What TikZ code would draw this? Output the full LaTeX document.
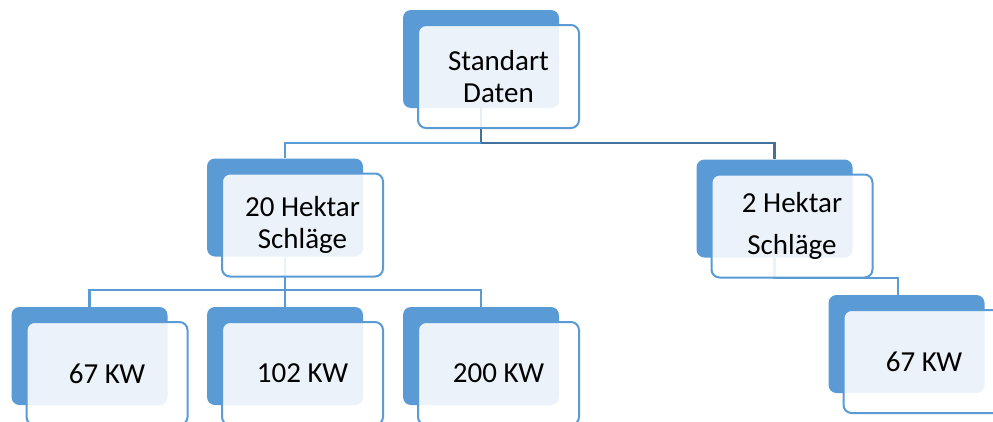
\documentclass[tikz,border=0pt]{standalone}
\usepackage{fontspec}
\setmainfont{Carlito}
\usetikzlibrary{backgrounds}
\definecolor{boxblue}{HTML}{5B9BD5}
\definecolor{linedark}{HTML}{41719C}
\begin{document}
\begin{tikzpicture}[x=1pt,y=-1pt,
  backbox/.style={fill=boxblue, rounded corners=8pt, minimum width=156pt, minimum height=98pt, inner sep=0pt},
  frontbox/.style={draw=boxblue, line width=2pt, fill=white, fill opacity=0.88, text opacity=1, rounded corners=8pt, minimum width=161pt, minimum height=103pt, inner sep=0pt, align=center, font=\fontsize{29}{32}\selectfont},
  conn/.style={draw=boxblue, line width=2.2pt},
  conndark/.style={draw=linedark, line width=2.2pt}]
\useasboundingbox (0,0) rectangle (993,421);
% back boxes
\node[backbox] (t)  at (481,59) {};
\node[backbox] (l)  at (285,207.5) {};
\node[backbox] (r)  at (774.5,208.5) {};
\node[backbox] (b1) at (89.5,356) {};
\node[backbox] (b2) at (285,356) {};
\node[backbox] (b3) at (481,356) {};
\node[backbox] (br) at (906.5,344) {};
% front boxes
\node[frontbox] (tf)  at (498.5,76.5) {Standart\\Daten};
\node[frontbox] (lf)  at (302.5,225) {20 Hektar\\Schläge};
\node[frontbox] (rf)  at (792,226) {2 Hektar\\[10pt]Schläge};
\node[frontbox] (b1f) at (107,373.5) {67 KW};
\node[frontbox] (b2f) at (302.5,373.5) {102 KW};
\node[frontbox] (b3f) at (498.5,373.5) {200 KW};
\node[frontbox] (brf) at (924,361.5) {67 KW};
\coordinate (rdrop) at (898,295);
% connectors
\begin{scope}[on background layer]
\fill[white] (0,0) rectangle (993,421);
\draw[conndark] (t.south) -- ++(0,35) -| (r.north);
\draw[conn] (t.south) ++(0,35) -| (l.north);
\draw[conn] (l.south) -- ++(0,33) -| (b1.north);
\draw[conn] (l.south) ++(0,33) -| (b3.north);
\draw[conn] (l.south) -- (b2.north);
\draw[conn] (r.south) -- ++(0,20) -| (rdrop);
\end{scope}
\end{tikzpicture}
\end{document}
